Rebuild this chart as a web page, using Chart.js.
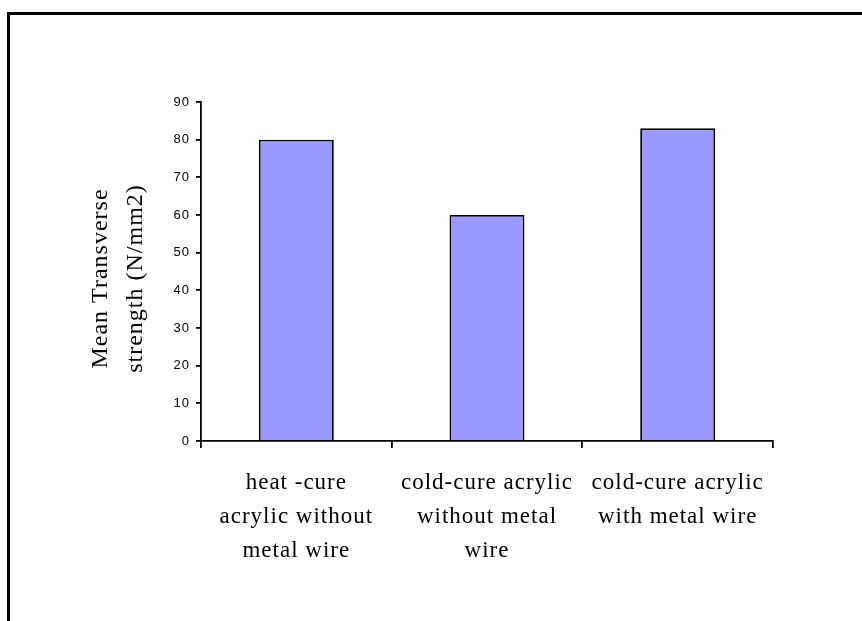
<!DOCTYPE html>
<html>
<head>
<meta charset="utf-8">
<script src="https://cdn.jsdelivr.net/npm/chart.js@4"></script>
<style>
  html, body { margin: 0; padding: 0; background: #fff; }
  #wrap { position: relative; width: 862px; height: 621px; overflow: hidden; }
  #frame { position: absolute; left: 7px; top: 12px; width: 900px; height: 700px;
           border-top: 3px solid #000; border-left: 3px solid #000; }
  canvas { position: absolute; left: 0; top: 0; }
</style>
</head>
<body>
<div id="wrap">
  <div id="frame"></div>
  <canvas id="chart" width="862" height="621"></canvas>
</div>
<script>
const categories = [
  ['heat -cure', 'acrylic without', 'metal wire'],
  ['cold-cure acrylic', 'without metal', 'wire'],
  ['cold-cure acrylic', 'with metal wire']
];
const strength = [80, 60, 83];
const yTicks = [0, 10, 20, 30, 40, 50, 60, 70, 80, 90];
const yTitle = ['Mean Transverse', 'strength (N/mm2)'];

// the original text is set a little loose
const spacing = {
  id: 'spacing',
  beforeLayout(chart) { chart.ctx.letterSpacing = '1px'; },
  beforeDraw(chart) { chart.ctx.letterSpacing = '1px'; }
};

new Chart(document.getElementById('chart'), {
  type: 'bar',
  data: {
    labels: categories,
    datasets: [{
      data: strength,
      backgroundColor: '#9999ff',
      borderColor: '#000',
      borderWidth: 1.8,
      barPercentage: 0.393,
      categoryPercentage: 1
    }]
  },
  options: {
    responsive: false,
    animation: false,
    layout: { padding: { top: 102, right: 89, bottom: 0, left: 0 } },
    plugins: { legend: { display: false }, tooltip: { enabled: false } },
    scales: {
      x: {
        afterFit(s) { s.height = 180; },
        border: { color: '#000', width: 1.8 },
        grid: { offset: true, drawOnChartArea: false, color: '#000', lineWidth: 1.8, tickLength: 7 },
        ticks: {
          color: '#000', padding: 18, maxRotation: 0, autoSkip: false,
          font: { family: 'Liberation Serif', size: 23, lineHeight: '34px' }
        }
      },
      y: {
        min: 0, max: 90,
        afterFit(s) { s.width = 201; },
        afterBuildTicks(s) { s.ticks = yTicks.map(v => ({ value: v })); },
        border: { color: '#000', width: 1.8 },
        grid: { drawOnChartArea: false, color: '#000', lineWidth: 1.8, tickLength: 5 },
        ticks: { color: '#000', padding: 6, font: { family: 'Liberation Sans', size: 13 } },
        title: {
          display: true, text: yTitle.map(t => t + '  '), color: '#000',
          padding: { top: 83, bottom: 0 },
          font: { family: 'Liberation Serif', size: 24, lineHeight: '35px' }
        }
      }
    }
  },
  plugins: [spacing]
});
</script>
</body>
</html>
